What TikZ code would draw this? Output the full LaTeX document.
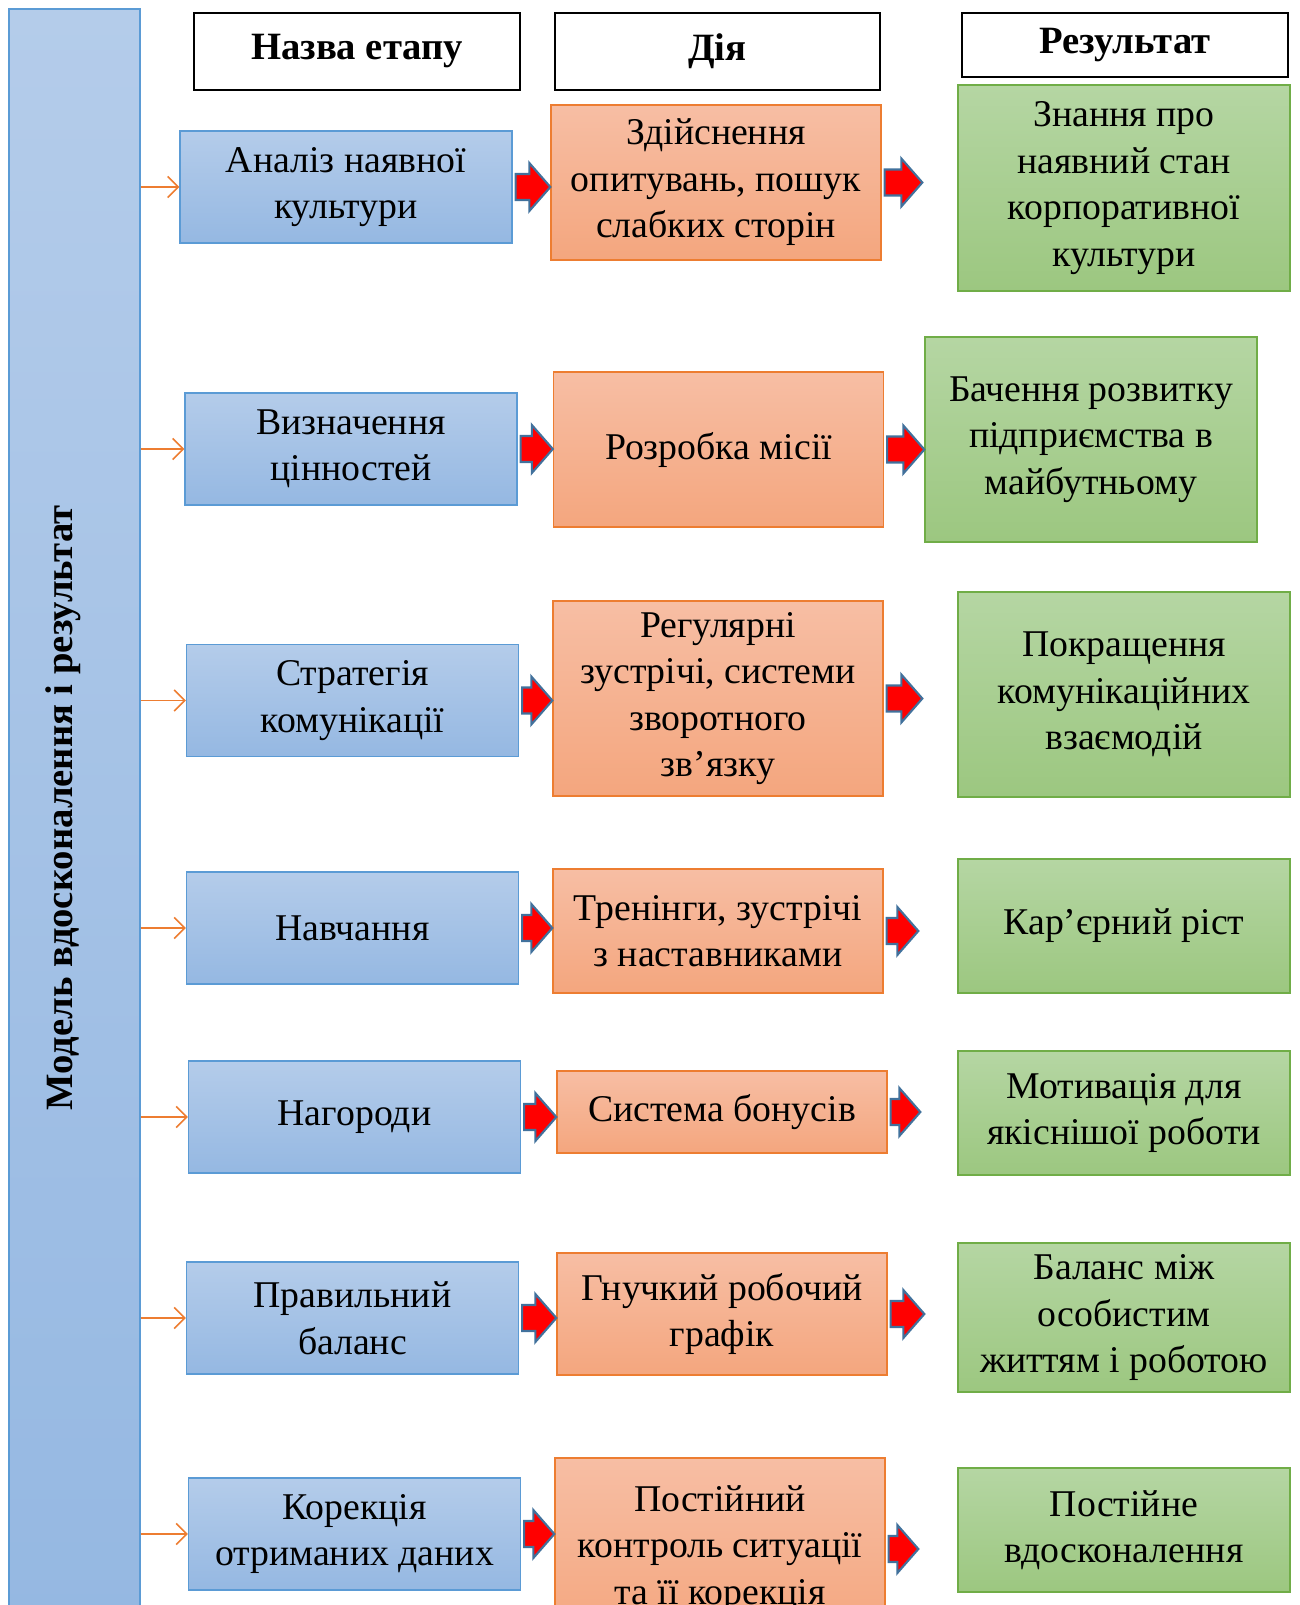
\documentclass[tikz,border=0pt]{standalone}
\usepackage{fontspec}
\setmainfont{Liberation Serif}
\usetikzlibrary{arrows.meta, calc}
\definecolor{stageTop}{RGB}{180,204,234}
\definecolor{stageBottom}{RGB}{149,184,226}
\definecolor{stageLine}{RGB}{91,155,213}
\definecolor{actionTop}{RGB}{247,190,164}
\definecolor{actionBottom}{RGB}{244,166,126}
\definecolor{actionLine}{RGB}{237,125,49}
\definecolor{resultTop}{RGB}{181,214,163}
\definecolor{resultBottom}{RGB}{156,199,128}
\definecolor{resultLine}{RGB}{112,173,71}
\definecolor{arrowLine}{RGB}{65,113,156}

\tikzset{
  every node/.style={font=\fontsize{21.5}{26.5}\selectfont, align=center, inner sep=0pt},
  headbox/.style={draw=black, line width=0.9pt, fill=white, minimum width=6.52cm, font=\fontsize{22}{26.5}\selectfont\bfseries},
  stagebox/.style={draw=stageLine, line width=0.8pt, top color=stageTop, bottom color=stageBottom, minimum width=6.64cm, minimum height=2.24cm},
  actionbox/.style={draw=actionLine, line width=0.8pt, top color=actionTop, bottom color=actionBottom, minimum width=6.6cm},
  resultbox/.style={draw=resultLine, line width=0.8pt, top color=resultTop, bottom color=resultBottom, minimum width=6.64cm},
  thinarr/.style={draw=actionLine, line width=0.9pt, -{Straight Barb[length=6pt,width=12pt]}},
  redarr/.style={draw=arrowLine, line width=1.2pt, fill=red, line join=miter}
}

% block arrow: from node #1 towards node #2, tip pulled back by #3 px
\newcommand{\redarrow}[3]{%
  \path (#1.east -| #2.west) ++(-#3,0) coordinate (tip);
  \draw[redarr] ($(#1.east)+(3,-13)$) -- ($(tip)+(-21,-13)$) -- ($(tip)+(-21,-24)$) -- (tip)
    -- ($(tip)+(-21,24)$) -- ($(tip)+(-21,13)$) -- ($(#1.east)+(3,13)$) -- cycle;
}

\begin{document}
\begin{tikzpicture}[x=0.02cm, y=-0.02cm]
\useasboundingbox (0,0) rectangle (1300,1605);

% left bar
\node[draw=stageLine, line width=0.8pt, top color=stageTop, bottom color=stageBottom, minimum width=2.62cm, minimum height=32.22cm] (bar) at (74.5,814.5) {};
\node[rotate=90, font=\fontsize{22}{26.5}\selectfont\bfseries] (title) at (63,808) {Модель вдосконалення і результат};

% headers
\node[headbox, minimum height=1.54cm] (h1) at (357,51.5) {Назва етапу};
\node[headbox, minimum height=1.54cm, minimum width=6.5cm] (h2) at (717.5,51.5) {Дія};
\node[headbox, minimum height=1.28cm] (h3) at (1125,45) {Результат};

% stages
\node[stagebox] (b1) at (346,187) {Аналіз наявної\\культури};
\node[stagebox] (b2) at (351,449) {Визначення\\цінностей};
\node[stagebox] (b3) at (352.5,700.5) {Стратегія\\комунікації};
\node[stagebox] (b4) at (352.5,928) {Навчання};
\node[stagebox] (b5) at (354.5,1117) {Нагороди};
\node[stagebox] (b6) at (352.5,1318) {Правильний\\баланс};
\node[stagebox] (b7) at (354.5,1534) {Корекція\\отриманих даних};

% actions
\node[actionbox, minimum height=3.1cm] (o1) at (716,182.5) {Здійснення\\опитувань, пошук\\слабких сторін};
\node[actionbox, minimum height=3.1cm] (o2) at (718.5,449.5) {Розробка місії};
\node[actionbox, minimum height=3.9cm] (o3) at (718,698.5) {Регулярні\\зустрічі, системи\\зворотного\\зв’язку};
\node[actionbox, minimum height=2.48cm] (o4) at (718,931) {Тренінги, зустрічі\\з наставниками};
\node[actionbox, minimum height=1.64cm] (o5) at (722,1112) {Система бонусів};
\node[actionbox, minimum height=2.44cm] (o6) at (722,1314) {Гнучкий робочий\\графік};
\node[actionbox, minimum height=3.64cm] (o7) at (720,1549) {Постійний\\контроль ситуації\\та її корекція};

% results
\node[resultbox, minimum height=4.12cm] (g1) at (1124,188) {Знання про\\наявний стан\\корпоративної\\культури};
\node[resultbox, minimum height=4.1cm] (g2) at (1091,439.5) {Бачення розвитку\\підприємства в\\майбутньому};
\node[resultbox, minimum height=4.1cm] (g3) at (1124,694.5) {Покращення\\комунікаційних\\взаємодій};
\node[resultbox, minimum height=2.68cm] (g4) at (1124,926) {Кар’єрний ріст};
\node[resultbox, minimum height=2.48cm] (g5) at (1124,1113) {Мотивація для\\якіснішої роботи};
\node[resultbox, minimum height=2.98cm] (g6) at (1124,1317.5) {Баланс між\\особистим\\життям і роботою};
\node[resultbox, minimum height=2.48cm] (g7) at (1124,1530) {Постійне\\вдосконалення};

% thin arrows from the bar
\foreach \i in {1,...,7}
  \draw[thinarr] (bar.east |- b\i.west) -- (b\i.west);

% block arrows
\redarrow{b1}{o1}{0} \redarrow{o1}{g1}{35}
\redarrow{b2}{o2}{0} \redarrow{o2}{g2}{0}
\redarrow{b3}{o3}{0} \redarrow{o3}{g3}{35}
\redarrow{b4}{o4}{0} \redarrow{o4}{g4}{39}
\redarrow{b5}{o5}{0} \redarrow{o5}{g5}{37}
\redarrow{b6}{o6}{0} \redarrow{o6}{g6}{33}
\redarrow{b7}{o7}{0} \redarrow{o7}{g7}{39}
\end{tikzpicture}
\end{document}
